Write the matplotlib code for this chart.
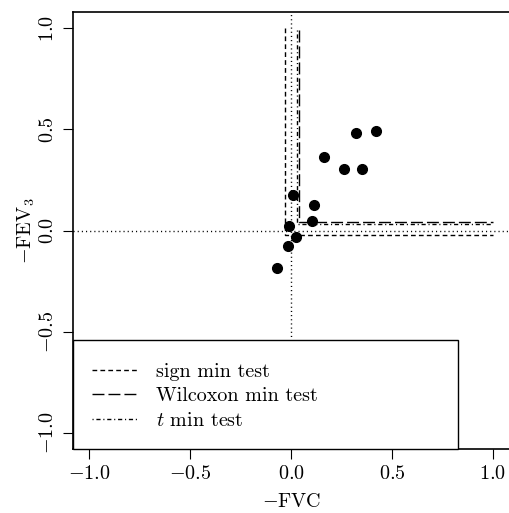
import matplotlib
matplotlib.use('Agg')
import matplotlib.pyplot as plt
from matplotlib.patches import Rectangle
from matplotlib.lines import Line2D

plt.rcParams['font.family'] = 'cmr10'
plt.rcParams['mathtext.fontset'] = 'cm'
plt.rcParams['axes.formatter.use_mathtext'] = True
plt.rcParams['lines.scale_dashes'] = False

# data
neg_fvc = [0.423, 0.322, 0.164, 0.265, 0.354, 0.012, 0.114, 0.103, -0.008, 0.023, -0.016, -0.069]
neg_fev3 = [0.493, 0.484, 0.365, 0.304, 0.304, 0.173, 0.124, 0.045, 0.023, -0.030, -0.077, -0.186]

# lower-left corners of the rejection regions (x, y) and their far ends
sign_corner = (-0.028, -0.022)
wilcoxon_corner = (0.040, 0.040)
t_corner = (0.030, 0.033)
sign_top, sign_right = 1.0, 1.0
wil_top, wil_right = 0.99, 1.0
t_top, t_right = 0.99, 1.0

xticks = [-1.0, -0.5, 0.0, 0.5, 1.0]
xticklabels = [r'$-1.0$', r'$-0.5$', r'$0.0$', r'$0.5$', r'$1.0$']
yticks = [-1.0, -0.5, 0.0, 0.5, 1.0]
yticklabels = [r'$-1.0$', r'$-0.5$', r'$0.0$', r'$0.5$', r'$1.0$']

legend_labels = ['sign min test', 'Wilcoxon min test', r'$t$ min test']

FS = 14.5
W, H = 509, 513
fig = plt.figure(figsize=(W / 100, H / 100), dpi=100)
ax = fig.add_axes([73 / W, 1 - 449 / H, (511 - 73) / W, (449 - 12) / H])

ax.set_xlim(-1.08, 1.08 + 2 / 201.5)
ax.set_ylim(-1.08, 1.08)

ax.axvline(0, color='black', lw=1.0, linestyle=(0, (0.8, 2.2)), zorder=1)
ax.axhline(0, color='black', lw=1.0, linestyle=(0, (0.8, 2.2)), zorder=1)

sign_ls = (0, (3.4, 2.3))
wil_ls = (0, (8.6, 2.9))
t_ls = (0, (0.8, 2.0, 3.0, 2.0))

ax.plot([sign_corner[0], sign_corner[0], sign_right], [sign_top, sign_corner[1], sign_corner[1]],
        color='black', lw=1.0, linestyle=sign_ls, zorder=2)
ax.plot([wilcoxon_corner[0], wilcoxon_corner[0], wil_right], [wil_top, wilcoxon_corner[1], wilcoxon_corner[1]],
        color='black', lw=1.0, linestyle=wil_ls, zorder=2)
ax.plot([t_corner[0], t_corner[0], t_right], [t_top, t_corner[1], t_corner[1]],
        color='black', lw=1.0, linestyle=t_ls, zorder=2)

ax.plot(neg_fvc, neg_fev3, 'o', color='black', markersize=7, zorder=3)

ax.set_xticks(xticks)
ax.set_xticklabels(xticklabels, fontsize=FS)
ax.set_yticks(yticks)
ax.set_yticklabels(yticklabels, fontsize=FS, rotation=90, va='center')
ax.tick_params(direction='out', length=7.5, width=0.8, pad=4)
for s in ax.spines.values():
    s.set_linewidth(1.2)
ax.spines['right'].set_visible(False)

ax.set_xlabel(r'$-$FVC', fontsize=FS, labelpad=7)
ax.set_ylabel(r'$-$FEV$_3$', fontsize=FS, labelpad=1.5)

# legend box
ax.add_patch(Rectangle((0, 0), (458 - 73) / 438, (449 - 340) / 437, transform=ax.transAxes,
                       facecolor='white', edgecolor='black', lw=1.0, zorder=4, clip_on=False))
handles = [Line2D([], [], color='black', lw=1.0, linestyle=sign_ls),
           Line2D([], [], color='black', lw=1.0, linestyle=wil_ls),
           Line2D([], [], color='black', lw=1.0, linestyle=t_ls)]
leg = ax.legend(handles, legend_labels, loc='upper left', bbox_to_anchor=(0.044, 0.198),
                frameon=False, fontsize=FS, handlelength=2.2, handletextpad=0.95,
                labelspacing=0.33, borderpad=0, borderaxespad=0)
leg.set_zorder(5)

fig.savefig('out.png', dpi=100)
